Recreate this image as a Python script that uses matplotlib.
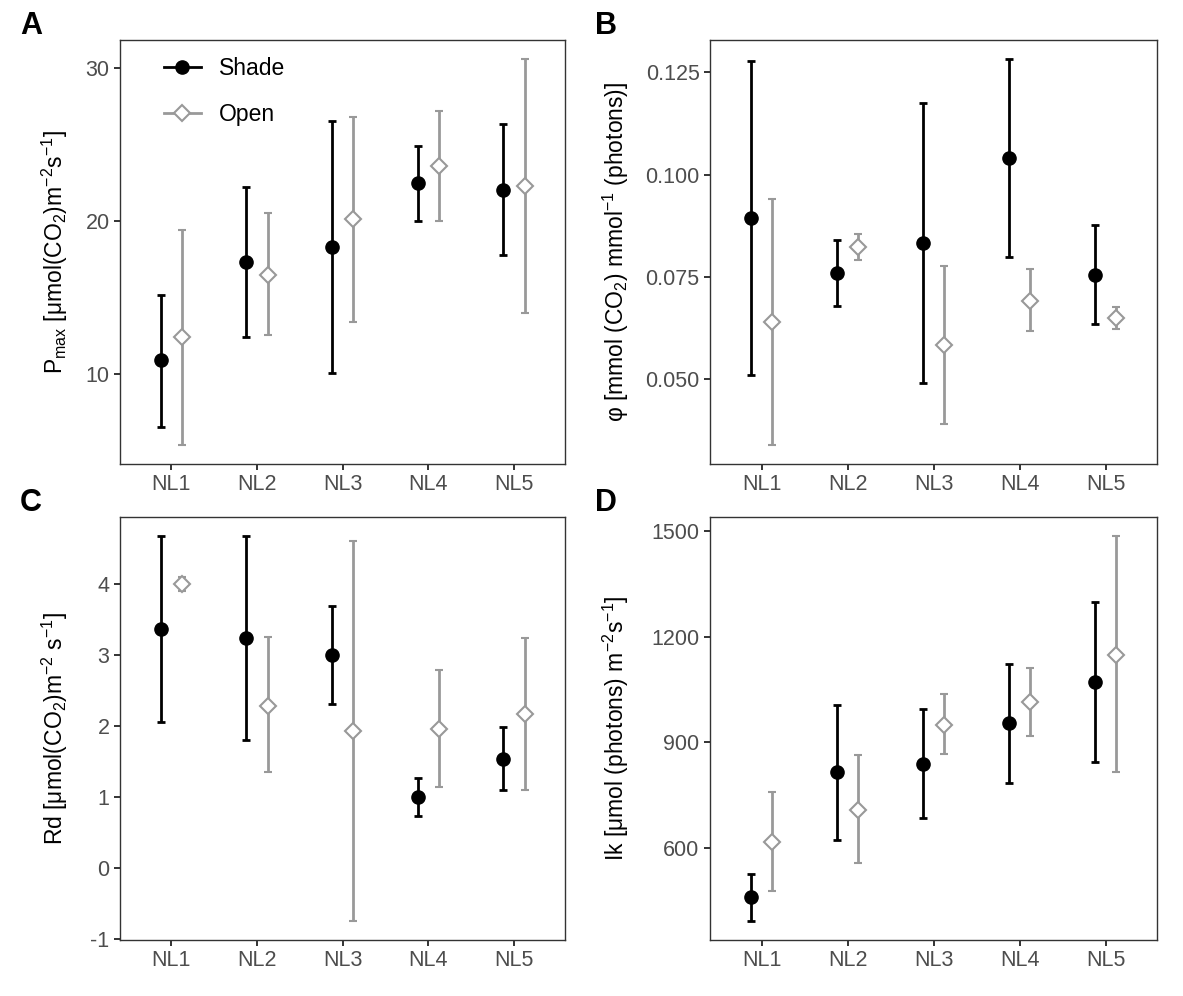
import numpy as np
import matplotlib
matplotlib.use("Agg")
import matplotlib.pyplot as plt
from matplotlib.lines import Line2D

plt.rcParams['font.family'] = ['Liberation Sans', 'DejaVu Sans']
plt.rcParams['mathtext.fontset'] = 'custom'
plt.rcParams['mathtext.rm'] = 'Liberation Sans'
plt.rcParams['mathtext.it'] = 'Liberation Sans:italic'
plt.rcParams['mathtext.bf'] = 'Liberation Sans:bold'
plt.rcParams['mathtext.default'] = 'regular'
plt.rcParams['axes.unicode_minus'] = False

# categories
levels = ["NL1", "NL2", "NL3", "NL4", "NL5"]

# A: Pmax
pmax_shade = [10.9, 17.3, 18.3, 22.5, 22.0]
pmax_shade_lo = [6.55, 12.45, 10.1, 20.0, 17.8]
pmax_shade_hi = [15.2, 22.2, 26.5, 24.9, 26.3]
pmax_open = [12.45, 16.5, 20.1, 23.6, 22.3]
pmax_open_lo = [5.4, 12.55, 13.4, 20.0, 14.0]
pmax_open_hi = [19.4, 20.55, 26.8, 27.15, 30.55]

# B: phi
phi_shade = [0.0893, 0.0759, 0.0833, 0.1041, 0.0756]
phi_shade_lo = [0.0511, 0.0680, 0.0492, 0.0800, 0.0636]
phi_shade_hi = [0.1278, 0.0841, 0.1176, 0.1282, 0.0878]
phi_open = [0.0640, 0.0823, 0.0583, 0.0692, 0.0649]
phi_open_lo = [0.0340, 0.0792, 0.0390, 0.0617, 0.0623]
phi_open_hi = [0.0940, 0.0856, 0.0776, 0.0769, 0.0676]

# C: Rd
rd_shade = [3.37, 3.24, 3.00, 1.00, 1.54]
rd_shade_lo = [2.06, 1.81, 2.31, 0.735, 1.09]
rd_shade_hi = [4.68, 4.68, 3.69, 1.27, 1.99]
rd_open = [4.01, 2.29, 1.93, 1.96, 2.17]
rd_open_lo = [3.90, 1.35, -0.75, 1.14, 1.10]
rd_open_hi = [4.11, 3.26, 4.62, 2.79, 3.24]

# D: Ik
ik_shade = [461, 816, 840, 955, 1071]
ik_shade_lo = [395, 625, 686, 786, 846]
ik_shade_hi = [527, 1006, 995, 1123, 1298]
ik_open = [619, 710, 950, 1014, 1149]
ik_open_lo = [479, 558, 866, 919, 817]
ik_open_hi = [760, 865, 1036, 1111, 1484]

shade_col = "black"
open_col = "#999999"
tick_col = "#4d4d4d"
dodge = 0.125


def panel(ax, sm, slo, shi, om, olo, ohi, ylabel, yticks, yfmt, letter, lab_x, let_x):
    x = np.arange(1, len(levels) + 1)
    sm, slo, shi = np.array(sm), np.array(slo), np.array(shi)
    om, olo, ohi = np.array(om), np.array(olo), np.array(ohi)
    ax.errorbar(x - dodge, sm, yerr=[sm - slo, shi - sm], fmt='o', color=shade_col,
                ms=9.5, elinewidth=2.0, capsize=3, capthick=2.0, zorder=3)
    ax.errorbar(x + dodge, om, yerr=[om - olo, ohi - om], fmt='D', color=open_col,
                mfc='white', mec=open_col, mew=1.5, ms=8.5, elinewidth=2.0,
                capsize=3, capthick=2.0, zorder=3)
    lo = min(slo.min(), olo.min())
    hi = max(shi.max(), ohi.max())
    pad = (hi - lo) * 0.05
    ax.set_ylim(lo - pad, hi + pad)
    ax.set_xlim(0.4, 5.6)
    ax.set_xticks(x)
    ax.set_xticklabels(levels)
    ax.set_yticks(yticks)
    ax.set_yticklabels([yfmt.format(v) for v in yticks])
    ax.tick_params(axis='both', colors='#333333', labelcolor=tick_col,
                   labelsize=15.5, length=4.5, width=1.4, direction='out', pad=3)
    for s in ax.spines.values():
        s.set_color('#333333')
        s.set_linewidth(1.0)
    ax.set_ylabel(ylabel, fontsize=16.5)
    ax.yaxis.set_label_coords(lab_x, 0.5)
    ax.text(let_x, 1.033, letter, transform=ax.transAxes, fontsize=22,
            fontweight='bold', va='center', ha='center')


fig = plt.figure(figsize=(11.83, 9.96), dpi=100)
axA = fig.add_axes([0.1014, 0.5341, 0.3766, 0.4257])
axB = fig.add_axes([0.6002, 0.5341, 0.3780, 0.4257])
axC = fig.add_axes([0.1014, 0.0562, 0.3766, 0.4247])
axD = fig.add_axes([0.6002, 0.0562, 0.3780, 0.4247])

panel(axA, pmax_shade, pmax_shade_lo, pmax_shade_hi, pmax_open, pmax_open_lo, pmax_open_hi,
      r"P$_{max}$ [μmol(CO$_2$)m$^{-2}$s$^{-1}$]", [10, 20, 30], "{:g}", "A", -0.112, -0.2)
panel(axB, phi_shade, phi_shade_lo, phi_shade_hi, phi_open, phi_open_lo, phi_open_hi,
      r"φ [mmol (CO$_2$) mmol$^{-1}$ (photons)]", [0.050, 0.075, 0.100, 0.125], "{:.3f}", "B",
      -0.177, -0.233)
panel(axC, rd_shade, rd_shade_lo, rd_shade_hi, rd_open, rd_open_lo, rd_open_hi,
      r"Rd [μmol(CO$_2$)m$^{-2}$ s$^{-1}$]", [-1, 0, 1, 2, 3, 4], "{:g}", "C", -0.112, -0.2)
panel(axD, ik_shade, ik_shade_lo, ik_shade_hi, ik_open, ik_open_lo, ik_open_hi,
      r"Ik [μmol (photons) m$^{-2}$s$^{-1}$]", [600, 900, 1200, 1500], "{:g}", "D",
      -0.177, -0.233)

handles = [
    Line2D([], [], color=shade_col, marker='o', ms=9.5, lw=2),
    Line2D([], [], color=open_col, marker='D', mfc='white', mec=open_col, mew=1.5, ms=8, lw=2),
]
axA.legend(handles, ["Shade", "Open"], loc='upper left', bbox_to_anchor=(0.099, 0.96),
           frameon=False, fontsize=16.5, handlelength=1.6, labelspacing=1.0,
           handletextpad=0.8, borderpad=0, borderaxespad=0)

fig.savefig("out.png", dpi=100)
